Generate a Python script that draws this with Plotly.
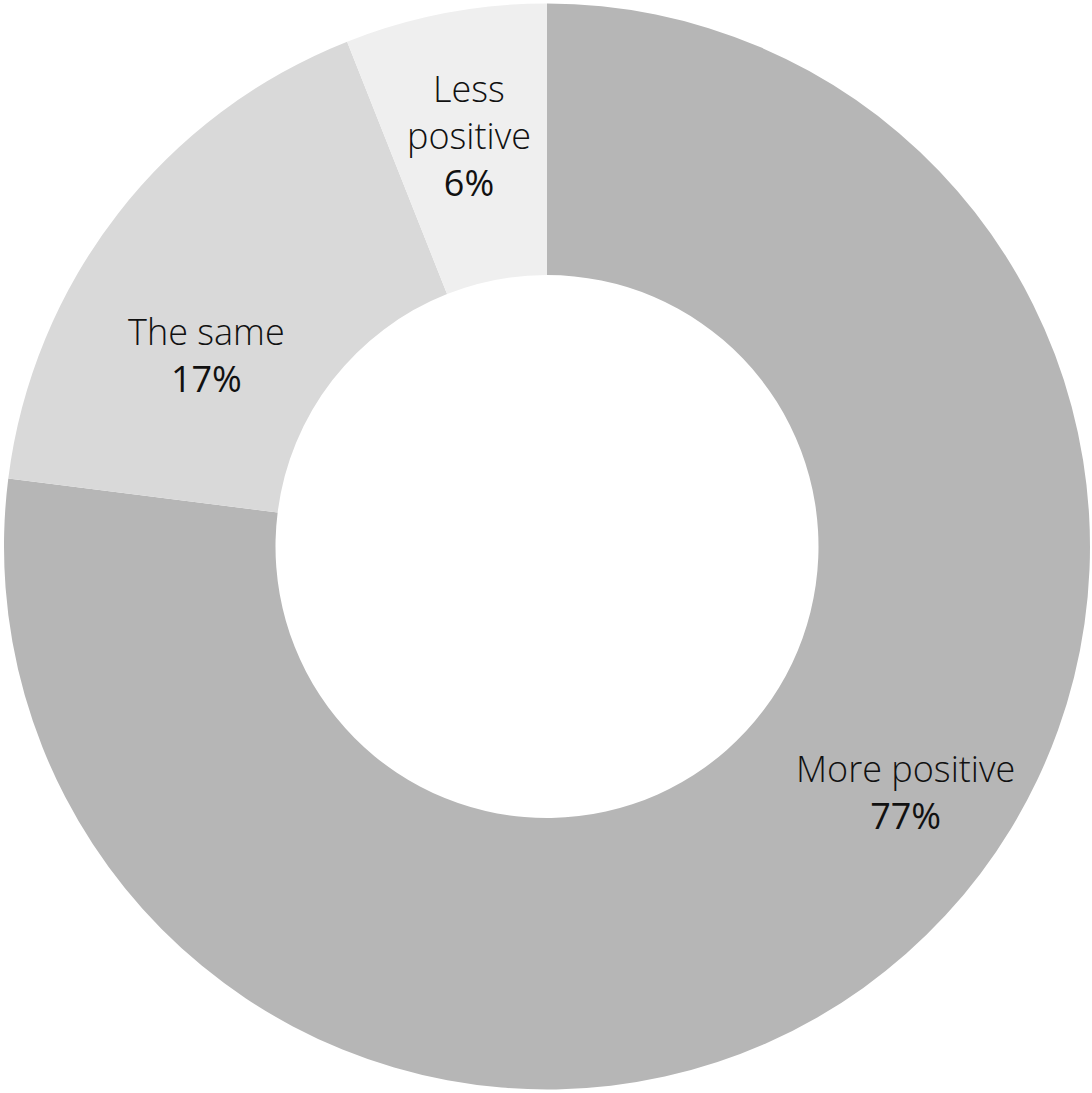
import math
import plotly.graph_objects as go

categories = ["More positive", "The same", "Less positive"]
values = [77, 17, 6]
percent_labels = ["77%", "17%", "6%"]
colors = ["#b6b6b6", "#d9d9d9", "#efefef"]

W, H = 1092, 1093
ml, mr, mt, mb = 4, 2, 3, 3
pw, ph = W - ml - mr, H - mt - mb
R = min(pw, ph) / 2

fig = go.Figure(go.Pie(
    labels=categories,
    values=values,
    sort=False,
    direction="clockwise",
    rotation=0,
    hole=0.5,
    marker=dict(colors=colors, line=dict(width=0)),
    textinfo="none",
    hoverinfo="label",
    showlegend=False,
))

# label placement computed from slice mid-angles (clockwise from 12 o'clock)
radius_frac = [0.80, 0.72, 0.77]
angle_adj = [-14.2, -8.5, 0.0]
total = sum(values)
cum = 0.0
annotations = []
for i, (cat, v, pl) in enumerate(zip(categories, values, percent_labels)):
    mid = (cum + v / 2) / total * 360.0 + angle_adj[i]
    cum += v
    rpx = radius_frac[i] * R
    ang = math.radians(mid)
    cx = 0.5 + rpx * math.sin(ang) / pw
    cy = 0.5 + rpx * math.cos(ang) / ph
    name = "Less<br>positive" if cat == "Less positive" else cat
    annotations.append(dict(
        x=cx, y=cy, xref="paper", yref="paper",
        text=f"<span style='font-weight:300'>{name}</span><br>{pl}",
        showarrow=False, xanchor="center", yanchor="middle",
        font=dict(family="Open Sans", size=36, color="#111111"),
    ))

fig.update_layout(
    width=W, height=H,
    margin=dict(l=ml, r=mr, t=mt, b=mb),
    paper_bgcolor="white", plot_bgcolor="white",
    annotations=annotations,
)

fig.write_html("out.html")
